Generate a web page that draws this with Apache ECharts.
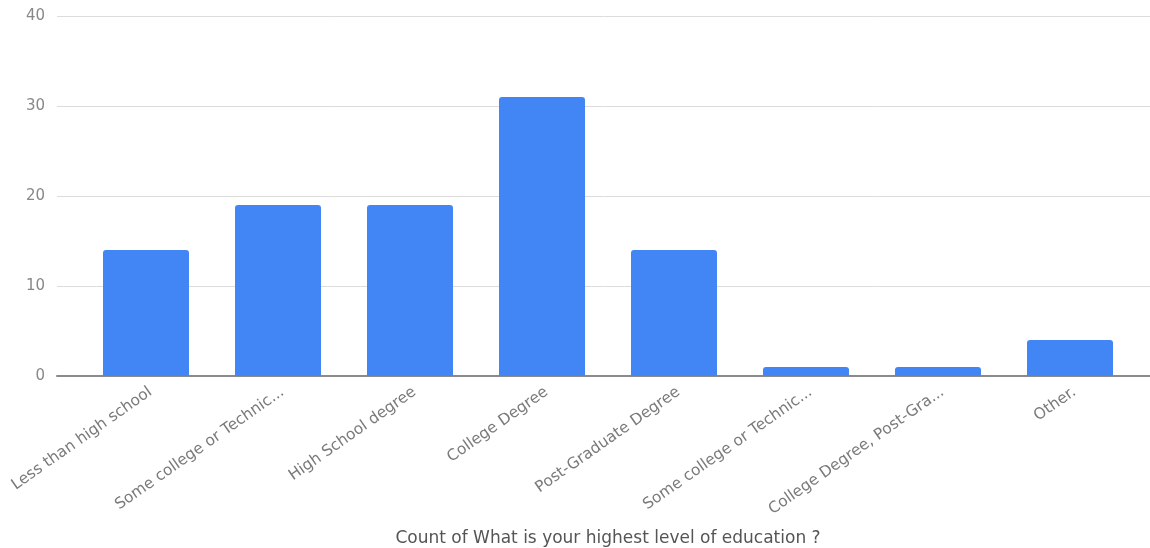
<!DOCTYPE html>
<html>
<head>
<meta charset="utf-8">
<script src="https://cdn.jsdelivr.net/npm/echarts@6/dist/echarts.min.js"></script>
<style>
  html, body { margin: 0; padding: 0; background: #fff; }
  #chart { width: 1150px; height: 548px; }
</style>
</head>
<body>
<div id="chart"></div>
<script>
var categories = [
  'Less than high school',
  'Some college or Technic...',
  'High School degree',
  'College Degree',
  'Post-Graduate Degree',
  'Some college or Technic...',
  'College Degree, Post-Gra...',
  'Other.'
]
var counts = [14, 19, 19, 31, 14, 1, 1, 4]
var yTicks = [0, 10, 20, 30, 40]

var myChart = echarts.init(document.getElementById('chart'))

var option = {
  animation: false,
  textStyle: { fontFamily: 'DejaVu Sans' },
  grid: [
    // background grid: gridlines + baseline span the full width
    { left: 57, right: 0, top: 16, bottom: 172, outerBoundsMode: 'none' },
    // bar grid
    { left: 80, right: 14, top: 16, bottom: 172, outerBoundsMode: 'none' }
  ],
  xAxis: [
    {
      type: 'category',
      gridIndex: 0,
      data: [''],
      axisLine: { show: true, lineStyle: { color: '#8a8a8a', width: 2 } },
      axisTick: { show: false },
      axisLabel: { show: false }
    },
    {
      type: 'category',
      gridIndex: 1,
      data: categories,
      axisLine: { show: false },
      axisTick: { show: false },
      axisLabel: {
        rotate: 35,
        interval: 0,
        color: '#7a7a7a',
        fontSize: 15.5,
        margin: 8,
        verticalAlign: 'top'
      },
      name: 'Count of What is your highest level of education ?',
      nameLocation: 'middle',
      nameGap: 154,
      nameTextStyle: { color: '#555', fontSize: 17 }
    }
  ],
  yAxis: [
    {
      type: 'value',
      gridIndex: 0,
      min: yTicks[0],
      max: yTicks[yTicks.length - 1],
      interval: 10,
      axisLine: { show: false },
      axisTick: { show: false },
      axisLabel: { color: '#888', fontSize: 15, margin: 12 },
      splitLine: { lineStyle: { color: '#dcdcdc', width: 1 } }
    },
    {
      type: 'value',
      gridIndex: 1,
      min: yTicks[0],
      max: yTicks[yTicks.length - 1],
      interval: 10,
      show: false
    }
  ],
  series: [
    {
      type: 'bar',
      xAxisIndex: 1,
      yAxisIndex: 1,
      data: counts,
      barWidth: 86,
      itemStyle: {
        color: '#4285f4',
        borderRadius: [3, 3, 0, 0]
      }
    }
  ]
}
myChart.setOption(option)
</script>
</body>
</html>
